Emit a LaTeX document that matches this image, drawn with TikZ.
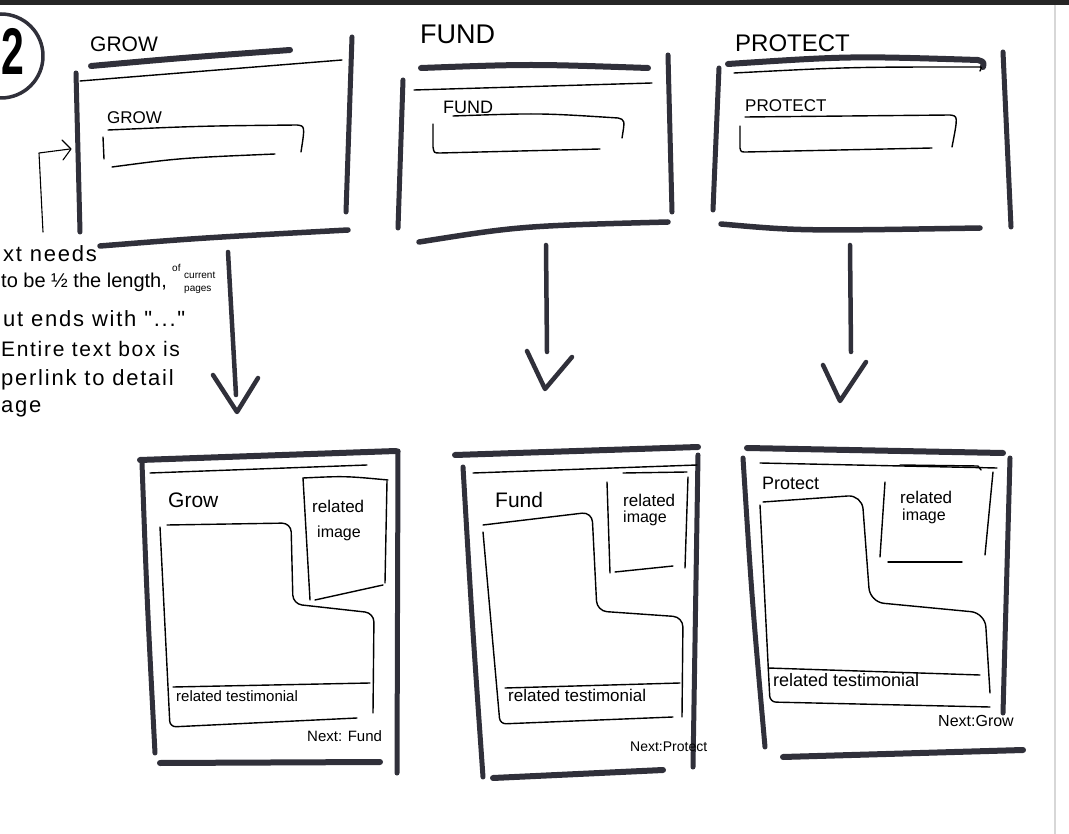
\documentclass[tikz,border=0pt]{standalone}
\usepackage{fontspec}
\setmainfont{Liberation Sans}
\newfontfamily\hand[LetterSpace=8.0]{Liberation Sans}
\definecolor{ink}{RGB}{48,48,58}
\definecolor{topbar}{RGB}{38,38,38}
\definecolor{pageedge}{RGB}{215,215,215}
\newcommand{\myfs}[1]{\fontsize{#1}{#1}\selectfont}
\tikzset{
  marker/.style={line width=5pt, line cap=round, line join=round, draw=ink},
  pen/.style={line width=1.4pt, line cap=round, line join=round, draw=black},
  txt/.style={inner sep=0pt, anchor=base west, text=black},
}
\begin{document}
\begin{tikzpicture}[x=1pt,y=-1pt]
\useasboundingbox (0,0) rectangle (1069,834);
\clip (0,0) rectangle (1069,834);
\fill[white] (0,0) rectangle (1069,834);
\fill[topbar] (0,0) rectangle (1069,5);
\draw[pageedge, line width=1.2pt] (1055,5) -- (1055,834);

% ---- circled 2
\draw[marker, line width=3.5pt] (1,56) circle[radius=42];
\node[txt, font=\myfs{66}\bfseries] (two) at (1,75) {\scalebox{0.62}[1]{2}};

% ---- top box 1 : GROW
\node[txt, font=\myfs{21}] (growT) at (90,52) {GROW};
\draw[marker, line width=6pt] (91,66) .. controls (180,58) .. (290,50);
\draw[pen] (80,81) -- (342,60);
\draw[marker] (76,73) -- (80,232);
\draw[marker] (352,37) -- (346,212);
\draw[marker, line width=5.5pt] (100,246) .. controls (200,238) .. (348,230);
\node[txt, font=\myfs{17}] (growI) at (107,124) {GROW};
\draw[pen] (108,130) .. controls (200,126) .. (297,125) .. controls (305,126) .. (301,152);
\draw[pen] (103,137) -- (104,159);
\draw[pen] (112,167) .. controls (180,158) .. (275,154);
% note arrow into box 1
\coordinate (nA) at (43,232);
\coordinate (nB) at (39,153);
\coordinate (nC) at (70,149);
\draw[pen, line width=1.1pt] (nA) -- (nB) -- (nC);
\draw[pen, line width=1.1pt] (62,140) -- (71,149) -- (63,160);

% ---- top box 2 : FUND
\node[txt, font=\myfs{27}] (fundT) at (420,44) {FUND};
\draw[marker, line width=6pt] (421,68) .. controls (530,64) .. (648,68);
\draw[pen] (414,90) -- (652,83);
\draw[marker] (403,80) -- (398,228);
\draw[marker] (668,55) -- (672,212);
\draw[marker, line width=5.5pt] (419,242) .. controls (520,226) .. (668,222);
\node[txt, font=\myfs{18}] (fundI) at (443,114) {FUND};
\draw[pen] (453,116) .. controls (540,113) .. (618,118) .. controls (625,120) .. (622,138);
\draw[pen] (433,124) -- (433,147) .. controls (434,153) .. (440,153) -- (600,149);

% ---- top box 3 : PROTECT
\node[txt, font=\myfs{24}] (protT) at (735,52) {PROTECT};
\draw[marker, line width=6pt] (728,64) .. controls (850,56) .. (978,60) .. controls (984,62) .. (983,67);
\draw[pen] (734,73) .. controls (850,67) .. (978,67) .. controls (982,67) .. (980,71);
\draw[marker] (719,68) -- (713,210);
\draw[marker] (1003,52) -- (1011,227);
\draw[marker, line width=5.5pt] (721,224) .. controls (800,231) .. (980,228);
\node[txt, font=\myfs{17}] (protI) at (745,112) {PROTECT};
\draw[pen] (745,117) -- (950,115) .. controls (958,116) .. (952,147);
\draw[pen] (740,126) -- (740,148) .. controls (741,152) .. (746,152) -- (932,148);

% ---- down arrows
\coordinate (a1s) at (228,252);
\coordinate (a1e) at (236,395);
\draw[marker, line width=4.5pt] (a1s) -- (a1e);
\draw[marker, line width=4.5pt] (213,375) -- (237,412) -- (258,378);
\coordinate (a2s) at (546,245);
\coordinate (a2e) at (547,352);
\draw[marker, line width=4.5pt] (a2s) -- (a2e);
\draw[marker, line width=4.5pt] (527,351) -- (545,389) -- (572,357);
\coordinate (a3s) at (850,245);
\coordinate (a3e) at (851,352);
\draw[marker, line width=4.5pt] (a3s) -- (a3e);
\draw[marker, line width=4.5pt] (823,365) -- (840,401) -- (866,362);

% ---- annotation
\node[txt, font=\hand\myfs{22}] (n1) at (3,262) {xt needs};
\node[txt, font=\myfs{20}] (n2) at (1,288) {to be ½ the length,};
\node[txt, font=\myfs{10}] (n2a) at (172,272) {of};
\node[txt, font=\myfs{10}] (n2b) at (184,279) {current};
\node[txt, font=\myfs{10}] (n2c) at (184,292) {pages};
\node[txt, font=\hand\myfs{22}] (n3) at (3,327) {ut ends with "..."};
\node[txt, font=\hand\myfs{21}] (n4) at (1,357) {Entire text box is};
\node[txt, font=\hand\myfs{22}] (n5) at (1,386) {perlink to detail};
\node[txt, font=\hand\myfs{22}] (n6) at (1,413) {age};

% ---- bottom box 1 : Grow
\draw[marker, line width=6pt] (140,460) -- (396,451);
\draw[marker] (398,451) -- (397,773);
\draw[marker] (142,463) .. controls (147,600) .. (155,753);
\draw[marker, line width=6pt] (160,763) -- (380,762);
\draw[pen] (150,473) -- (367,465);
\node[txt, font=\myfs{21}] (g1) at (168,507) {Grow};
\draw[pen] (303,478) .. controls (345,476) .. (388,480);
\draw[pen] (303,478) -- (310,600);
\draw[pen] (387,481) -- (385,583);
\draw[pen] (315,600) -- (383,585);
\node[txt, font=\myfs{17}] (ri1) at (312,512) {related};
\node[txt, font=\myfs{16}] (im1) at (317,537) {image};
\draw[pen, rounded corners=9pt] (167,525) -- (291,523) -- (293,604) -- (374,613) -- (373,713);
\draw[pen, rounded corners=6pt] (160,527) -- (170,727) -- (357,718);
\draw[pen] (173,687) -- (370,683);
\node[txt, font=\myfs{15}] (rt1) at (176,701) {related testimonial};
\node[txt, font=\myfs{15}] (nx1) at (307,741) {Next: Fund};

% ---- bottom box 2 : Fund
\draw[marker, line width=6pt] (455,455) -- (698,447);
\draw[marker] (463,467) .. controls (472,620) .. (483,777);
\draw[marker] (698,455) -- (693,767);
\draw[marker, line width=6pt] (493,778) -- (663,770);
\draw[pen] (473,473) -- (697,465);
\node[txt, font=\myfs{21}] (f2) at (495,507) {Fund};
\draw[pen] (623,473) -- (687,472);
\draw[pen] (607,482) -- (610,573);
\draw[pen] (688,477) -- (685,568);
\draw[pen] (615,572) -- (673,566);
\node[txt, font=\myfs{17}] (ri2) at (623,506) {related};
\node[txt, font=\myfs{16}] (im2) at (623,522) {image};
\draw[pen, rounded corners=10pt] (483,525) -- (592,512) -- (597,611) -- (683,617) -- (682,717);
\draw[pen, rounded corners=6pt] (483,532) -- (500,724) -- (673,717);
\draw[pen] (505,688) -- (680,683);
\node[txt, font=\myfs{17}] (rt2) at (508,701) {related testimonial};
\node[txt, font=\myfs{14}] (nx2) at (630,751) {Next:Protect};

% ---- bottom box 3 : Protect
\draw[marker, line width=6pt] (747,448) -- (1003,453);
\draw[marker] (743,458) .. controls (752,600) .. (765,747);
\draw[marker] (1010,458) -- (1003,713);
\draw[marker, line width=6pt] (783,757) -- (1023,750);
\draw[pen] (760,463) -- (997,468);
\draw[pen] (900,465) -- (978,466) -- (981,470);
\node[txt, font=\myfs{18}] (p3) at (762,489) {Protect};
\draw[pen] (885,482) -- (880,557);
\draw[pen] (993,472) -- (985,555);
\draw[pen] (888,562) -- (962,562);
\node[txt, font=\myfs{17}] (ri3) at (900,503) {related};
\node[txt, font=\myfs{16}] (im3) at (902,520) {image};
\draw[pen, rounded corners=14pt] (763,502) -- (862,495) -- (870,602) -- (985,613) -- (990,693);
\draw[pen, rounded corners=6pt] (760,505) -- (770,702) -- (990,707);
\draw[pen] (768,668) -- (980,675);
\node[txt, font=\myfs{18}] (rt3) at (773,686) {related testimonial};
\node[txt, font=\myfs{16}] (nx3) at (938,726) {Next:Grow};
\end{tikzpicture}
\end{document}
